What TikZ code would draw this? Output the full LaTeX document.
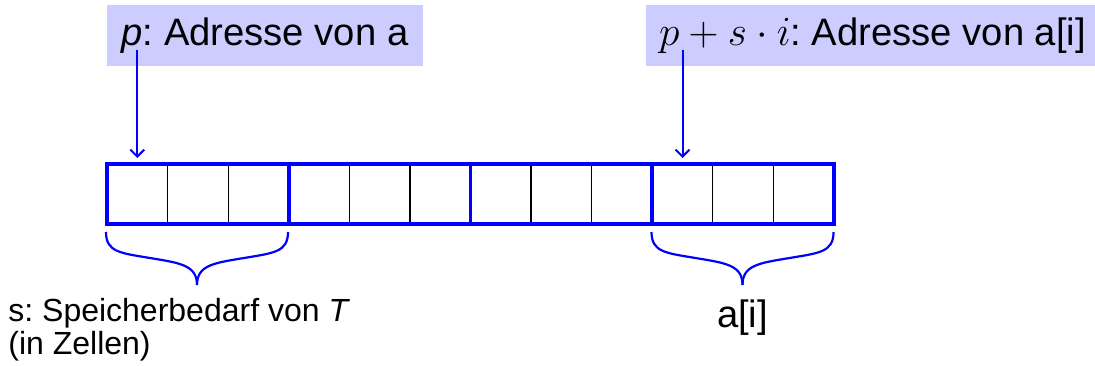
\documentclass[tikz,border=0pt]{standalone}
\usepackage{fontspec}
\setmainfont{Liberation Sans}
\usetikzlibrary{calc,arrows.meta}
\frenchspacing
\begin{document}
\begin{tikzpicture}[x=0.5pt,y=-0.5pt,
  cell/.style={draw=black,line width=0.6pt,minimum width=30.29pt,minimum height=30pt,inner sep=0pt,outer sep=0pt},
  grp/.style={draw=blue,line width=1.8pt},
  lab/.style={fill=blue!20,inner xsep=7.5pt,inner ysep=0pt,text height=20pt,text depth=10.5pt,font=\fontsize{19.1}{22}\selectfont},
  arr/.style={draw=blue,line width=1pt,-{Straight Barb[length=3.5pt,width=7pt]}},
  brc/.style={draw=blue,line width=1.1pt},
  pics/curlybrace/.style={code={
    \draw[brc] (-91,0) .. controls (-91,20) and (-77,21) .. (-47,26) .. controls (-17,31) and (0,33) .. (0,53);
    \draw[brc] (91,0) .. controls (91,20) and (77,21) .. (47,26) .. controls (17,31) and (0,33) .. (0,53);
  }},
]
\useasboundingbox (0,0) rectangle (1095,365);
\foreach \k in {1,...,12} \node[cell] (c\k) at ({107+(\k-0.5)*60.583},194) {};
\foreach \a/\b in {1/3,4/6,7/9,10/12} \draw[grp] (c\a.north west) rectangle (c\b.south east);
\node[lab] (l1) at (265,35.5) {\textit{p}: Adresse von a};
\node[lab,inner xsep=6.5pt] (l2) at (872.5,35.5) {{\fontsize{19.6}{24}\selectfont$p+s\cdot i$}: Adresse von a[i]};
\coordinate (s1) at ($(c1.center)+(0,-144)$);
\coordinate (s2) at ($(c10.center)+(0,-144)$);
\draw[arr] (s1) -- ([yshift=3pt]c1.north);
\draw[arr] (s2) -- ([yshift=3pt]c10.north);
\pic at (197,232) {curlybrace};
\pic at (742.5,232) {curlybrace};
\node[anchor=base west,font=\fontsize{16}{16.5}\selectfont,align=left,inner sep=0pt] (sl) at (8,354) {s: Speicherbedarf von \textit{T}\\(in Zellen)};
\node[anchor=base,font=\fontsize{19.1}{22}\selectfont,inner sep=0pt] (ai) at (742.5,327) {a[i]};
\end{tikzpicture}
\end{document}
